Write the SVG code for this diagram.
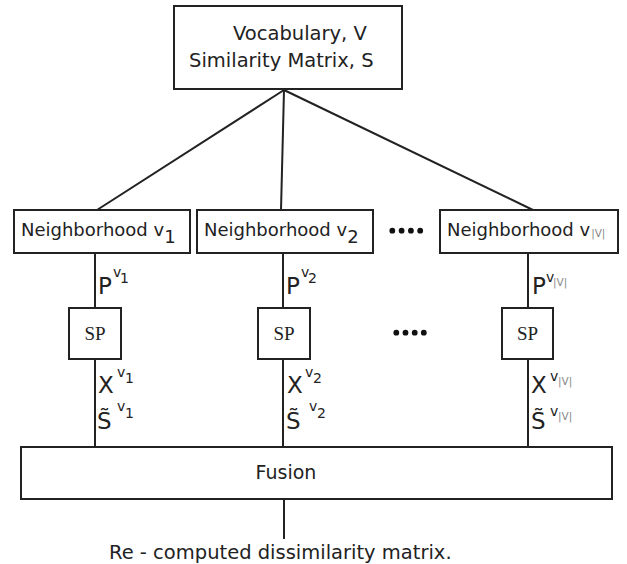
<svg xmlns="http://www.w3.org/2000/svg" width="627" height="564" viewBox="0 0 627 564">
<style>
.box{fill:#fff;stroke:#222;stroke-width:2}
.ln{stroke:#222;stroke-width:2;fill:none}
text{font-family:"DejaVu Sans",sans-serif;fill:#222}
.big{font-size:19.5px}
.nb{font-size:18px}
.lab{font-size:23px}
.sup{font-size:14px}
.g{font-size:10.5px;fill:#888}
.sp{font-family:"Liberation Serif",serif;font-size:19px;text-anchor:middle}
.dot{fill:#111}
</style>
<g id="connectors">
<line class="ln" x1="284" y1="90" x2="97" y2="210"/>
<line class="ln" x1="284" y1="90" x2="281" y2="210"/>
<line class="ln" x1="284" y1="90" x2="533" y2="210"/>
<line class="ln" x1="95" y1="253" x2="95" y2="447"/>
<line class="ln" x1="283" y1="253" x2="283" y2="447"/>
<line class="ln" x1="528" y1="253" x2="528" y2="447"/>
<line class="ln" x1="284" y1="499" x2="284" y2="539"/>
</g>
<g id="top">
<rect class="box" x="174" y="6" width="228" height="83"/>
<text class="big" x="233" y="40">Vocabulary, V</text>
<text class="big" x="189" y="67">Similarity Matrix, S</text>
</g>
<g id="nb1">
<rect class="box" x="14" y="210" width="176" height="43"/>
<text class="nb" x="21" y="236">Neighborhood v<tspan dy="7">1</tspan></text>
</g>
<g id="nb2">
<rect class="box" x="197" y="210" width="176" height="43"/>
<text class="nb" x="204" y="236">Neighborhood v<tspan dy="7">2</tspan></text>
</g>
<g id="nb3">
<rect class="box" x="440" y="210" width="178" height="43"/>
<text class="nb" x="447" y="236">Neighborhood v<tspan class="g" dx="1" dy="1">|V|</tspan></text>
</g>
<g id="dots1">
<circle class="dot" cx="392.3" cy="230.7" r="2.9"/>
<circle class="dot" cx="401.6" cy="230.7" r="2.9"/>
<circle class="dot" cx="410.9" cy="230.7" r="2.9"/>
<circle class="dot" cx="420.2" cy="230.7" r="2.9"/>
</g>
<g id="dots2">
<circle class="dot" cx="396.3" cy="332.7" r="2.9"/>
<circle class="dot" cx="405.5" cy="332.7" r="2.9"/>
<circle class="dot" cx="414.7" cy="332.7" r="2.9"/>
<circle class="dot" cx="423.8" cy="332.7" r="2.9"/>
</g>
<g id="plabels">
<text class="lab" x="98" y="294">P</text>
<text class="sup" x="113" y="277">v</text><text class="sup" x="120" y="283">1</text>
<text class="lab" x="286" y="294">P</text>
<text class="sup" x="301" y="277">v</text><text class="sup" x="308" y="283">2</text>
<text class="lab" x="532" y="294">P</text>
<text class="sup" x="546" y="282">v</text><text class="g" x="553" y="286">|V|</text>
</g>
<g id="sp1">
<rect class="box" x="69" y="308" width="52" height="51"/>
<text class="sp" x="95" y="340">SP</text>
</g>
<g id="sp2">
<rect class="box" x="258" y="308" width="52" height="51"/>
<text class="sp" x="284" y="340">SP</text>
</g>
<g id="sp3">
<rect class="box" x="502" y="308" width="51" height="51"/>
<text class="sp" x="527.5" y="340">SP</text>
</g>
<g id="xlabels">
<text class="lab" x="98" y="393">X</text>
<text class="sup" x="117" y="377">v</text><text class="sup" x="125" y="383">1</text>
<text class="lab" x="97" y="429">S&#771;</text>
<text class="sup" x="117" y="411">v</text><text class="sup" x="125" y="418">1</text>
<text class="lab" x="287" y="393">X</text>
<text class="sup" x="305" y="377">v</text><text class="sup" x="313" y="383">2</text>
<text class="lab" x="286" y="429">S&#771;</text>
<text class="sup" x="309" y="411">v</text><text class="sup" x="317" y="418">2</text>
<text class="lab" x="531" y="393">X</text>
<text class="sup" x="550" y="381">v</text><text class="g" x="558" y="385">|V|</text>
<text class="lab" x="531" y="429">S&#771;</text>
<text class="sup" x="550" y="416">v</text><text class="g" x="558" y="420">|V|</text>
</g>
<g id="fusion">
<rect class="box" x="21" y="447" width="591" height="52"/>
<text x="286" y="479" style="font-size:19px;text-anchor:middle">Fusion</text>
</g>
<g id="output">
<text class="big" x="109" y="559">Re - computed dissimilarity matrix.</text>
</g>
</svg>
